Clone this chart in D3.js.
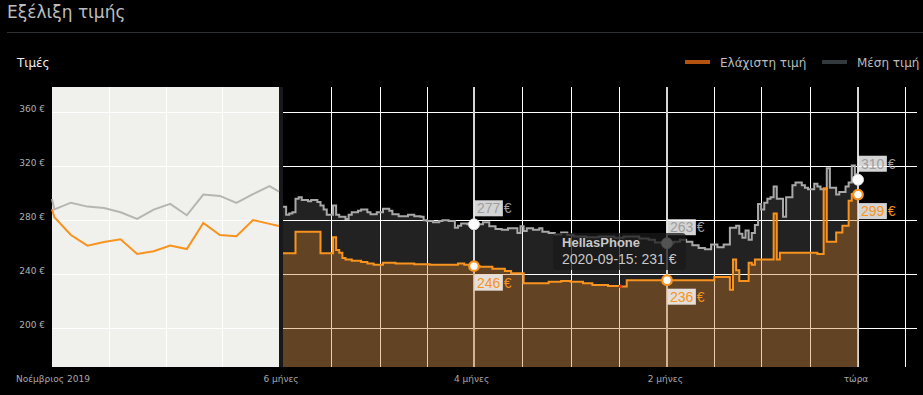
<!DOCTYPE html>
<html>
<head>
<meta charset="utf-8">
<script src="https://cdn.jsdelivr.net/npm/d3@7"></script>
<style>
  body { margin: 0; background: #000; }
  svg { display: block; font-family: "DejaVu Sans", Verdana, sans-serif; }
</style>
</head>
<body>
<svg id="chart" width="923" height="395"></svg>
<script>
// older history (left, compressed panel)
const oldDates = ["2019-11-20","2019-11-22","2019-12-06","2019-12-20","2020-01-03","2020-01-17","2020-01-31","2020-02-14",
                  "2020-02-28","2020-03-13","2020-03-27","2020-04-10","2020-04-24","2020-05-08","2020-05-22","2020-05-30"];
const oldAvg = [295.8,288.1,293.0,290.1,289.1,285.9,281.0,287.9,292.1,283.7,299.0,298.0,292.8,299.3,305.2,301.2];
const oldMin = [288.1,282.2,269.1,261.2,263.9,265.9,255.0,257.0,261.2,258.7,278.0,269.1,268.1,280.2,277.3,275.8];

// last 6 months, average price (step changes)
const avgDates = [
  "2020-05-30","2020-05-31",
  "2020-06-01","2020-06-02","2020-06-03","2020-06-04","2020-06-05","2020-06-07","2020-06-08","2020-06-10","2020-06-11","2020-06-12",
  "2020-06-13","2020-06-15","2020-06-16","2020-06-17","2020-06-19","2020-06-20","2020-06-21","2020-06-23","2020-06-24","2020-06-26",
  "2020-06-27","2020-06-29",
  "2020-07-01","2020-07-03","2020-07-04","2020-07-06","2020-07-09","2020-07-11","2020-07-13","2020-07-14","2020-07-15","2020-07-17",
  "2020-07-19","2020-07-20","2020-07-22","2020-07-24","2020-07-25","2020-07-26","2020-07-28",
  "2020-08-02","2020-08-04","2020-08-06","2020-08-08","2020-08-10","2020-08-13","2020-08-14","2020-08-15","2020-08-16","2020-08-18",
  "2020-08-20","2020-08-21","2020-08-23","2020-08-25","2020-08-27","2020-08-29","2020-08-31",
  "2020-09-04","2020-09-08","2020-09-13","2020-09-16","2020-09-21","2020-09-24","2020-09-26","2020-09-30",
  "2020-10-02","2020-10-04","2020-10-06","2020-10-08","2020-10-10","2020-10-12","2020-10-14","2020-10-16","2020-10-18","2020-10-20",
  "2020-10-22","2020-10-23","2020-10-24","2020-10-25","2020-10-26","2020-10-27","2020-10-28","2020-10-29","2020-10-30","2020-10-31",
  "2020-11-01","2020-11-02","2020-11-03","2020-11-04","2020-11-06","2020-11-07","2020-11-09","2020-11-10","2020-11-12","2020-11-13",
  "2020-11-14","2020-11-16","2020-11-17","2020-11-18","2020-11-20","2020-11-21","2020-11-23","2020-11-24","2020-11-26","2020-11-27",
  "2020-11-28","2020-11-29","2020-11-30"];
const avgValues = [
  290,284,
  285,286,296,297,295,294,295,293.5,291,288,
  284,291,284,282.5,281,284,286,287,288,286,
  284.5,286,
  288.5,287,284.5,283,284,283,282.5,280,279.5,278.5,
  279.5,280,279.5,274.5,276,277.5,277,
  278.5,275.5,273.5,273,274,270.5,275.5,272,274,273,
  274,271.5,270.5,269.5,271,269,268,
  267.5,268,267,268,266.5,265.5,263.5,263,
  264,265.5,264,261.5,259.5,258.5,262,260,262,274.5,
  276,270,267,272.5,265.5,270.5,276.5,292,288,293,
  296,297,305,296,282.5,297,306,308,306,304,
  303,307,305,303,318.5,304,299,301,305,308,
  320.5,314,310];

// last 6 months, lowest price (step changes)
const minDates = [
  "2020-05-30","2020-06-03","2020-06-11","2020-06-15","2020-06-16","2020-06-17","2020-06-18","2020-06-19","2020-06-21","2020-06-24",
  "2020-06-26","2020-06-28","2020-07-01","2020-07-05","2020-07-11","2020-07-16","2020-07-25","2020-07-27","2020-07-30","2020-08-01",
  "2020-08-05","2020-08-09","2020-08-11","2020-08-15","2020-08-23","2020-08-27","2020-08-30","2020-09-03","2020-09-06","2020-09-11",
  "2020-09-15","2020-09-17","2020-10-15","2020-10-20","2020-10-21","2020-10-22","2020-10-23","2020-10-26","2020-10-27","2020-10-28",
  "2020-11-03","2020-11-04","2020-11-05","2020-11-17","2020-11-19","2020-11-20","2020-11-23","2020-11-25","2020-11-27","2020-11-28",
  "2020-11-30"];
const minValues = [
  255.5,271.5,255.5,267.5,258,256,252,251,250,249,
  248,247,248.5,248,247.5,247,248,247,246,245.5,
  244,242.5,240.7,233.3,234.5,235,234.5,233.3,232,231.3,
  231,235.6,238,228.5,251,243,235,248.6,247,251,
  285,251,256,255,303.7,264,271,276,294.5,299.5,
  299];

const yTicks = [200, 240, 280, 320, 360];
const periodMonths = [-6, -4, -2, 0];
const periodLabels = ["6 μήνες", "4 μήνες", "2 μήνες", "τώρα"];
const startLabel = "Νοέμβριος 2019";
const nowDate = "2020-11-30";

// hovered point
const hoverShop = "HellasPhone";
const hoverDate = "2020-09-15";
const hoverPrice = 231;

const svg = d3.select("#chart");
const parse = d3.timeParse("%Y-%m-%d");
const zip = (ds, vs) => ds.map((d, i) => ({ date: parse(d), v: vs[i] }));

const oldAvgData = zip(oldDates, oldAvg);
const oldMinData = zip(oldDates, oldMin);
const avgData = zip(avgDates, avgValues);
const minData = zip(minDates, minValues);
const now = parse(nowDate);
const sixAgo = d3.timeMonth.offset(now, -6);

const plotTop = 87, plotBottom = 367;
const y = d3.scaleLinear().domain([171.1, 378.9]).range([367.3, 86.7]);
const xL = d3.scaleTime().domain([parse(oldDates[0]), sixAgo]).range([52, 279]);
const xR = d3.scaleTime().domain([sixAgo, d3.timeDay.offset(now, 19)]).range([283, 917.4]);
const px = v => Math.round(v) + 0.5;

const orange = "#f7931e", grey = "#a8a8a8";

// header
svg.append("text").attr("x", 7).attr("y", 18).attr("font-size", 17).attr("fill", "#bdbdbd").text("Εξέλιξη τιμής");
svg.append("line").attr("x1", 7).attr("x2", 923).attr("y1", 32.5).attr("y2", 32.5).attr("stroke", "#2e3133");
svg.append("text").attr("x", 17).attr("y", 67).attr("font-size", 12).attr("fill", "#eee").text("Τιμές");

const legend = [
  { label: "Ελάχιστη τιμή", color: "#b4520f", x: 685 },
  { label: "Μέση τιμή", color: "#323a3e", x: 822 }
];
const lg = svg.append("g").selectAll("g").data(legend).join("g").attr("transform", d => `translate(${d.x},62)`);
lg.append("line").attr("x2", 25).attr("stroke", d => d.color).attr("stroke-width", 4);
lg.append("text").attr("x", 35).attr("y", 4.5).attr("font-size", 12).attr("fill", "#bbb").text(d => d.label);

// left panel
svg.append("rect").attr("x", 52).attr("y", plotTop).attr("width", 227).attr("height", plotBottom - plotTop).attr("fill", "#f0f0ec");
svg.append("rect").attr("x", 279).attr("y", plotTop).attr("width", 4).attr("height", plotBottom - plotTop).attr("fill", "#16181b");

const gl = svg.append("g");
gl.selectAll("line.h").data(yTicks).join("line")
  .attr("x1", 52).attr("x2", 279).attr("y1", d => px(y(d))).attr("y2", d => px(y(d)))
  .attr("stroke", "#fff");
gl.selectAll("line.v").data([1, 2, 3]).join("line")
  .attr("x1", d => px(52 + d * 227 / 4)).attr("x2", d => px(52 + d * 227 / 4))
  .attr("y1", plotTop).attr("y2", plotBottom).attr("stroke", "#fff");

const lineL = d3.line().x(d => xL(d.date)).y(d => y(d.v));
svg.append("path").datum(oldAvgData).attr("d", lineL).attr("fill", "none").attr("stroke", "#b5b5b3").attr("stroke-width", 2);
svg.append("path").datum(oldMinData).attr("d", lineL).attr("fill", "none").attr("stroke", orange).attr("stroke-width", 2);

// right panel
const areaR = d3.area().x(d => xR(d.date)).y0(plotBottom).y1(d => y(d.v)).curve(d3.curveStepAfter);
const lineR = d3.line().x(d => xR(d.date)).y(d => y(d.v)).curve(d3.curveStepAfter);

svg.append("path").datum(avgData).attr("d", areaR).attr("fill", "#222");

// grid: half months back from now
const gridDates = [];
for (let k = -6; k <= 0; k++) {
  const a = d3.timeMonth.offset(now, k), b = d3.timeMonth.offset(now, k + 1);
  gridDates.push(a, new Date((+a + +b) / 2));
}
const majorDates = periodMonths.map(m => d3.timeMonth.offset(now, m));
const isMajor = d => majorDates.some(m => +m === +d);

const gr = svg.append("g");
gr.selectAll("line.h").data(yTicks).join("line")
  .attr("x1", 283).attr("x2", 917).attr("y1", d => px(y(d))).attr("y2", d => px(y(d)))
  .attr("stroke", "#fff");
gr.selectAll("line.v").data(gridDates.filter(d => d > sixAgo && !isMajor(d))).join("line")
  .attr("x1", d => px(xR(d))).attr("x2", d => px(xR(d)))
  .attr("y1", plotTop).attr("y2", plotBottom).attr("stroke", "#fff");
gr.selectAll("line.m").data(majorDates.filter(d => d > sixAgo)).join("line")
  .attr("x1", d => Math.round(xR(d))).attr("x2", d => Math.round(xR(d)))
  .attr("y1", plotTop).attr("y2", plotBottom).attr("stroke", "#d6d6d6").attr("stroke-width", 2);

svg.append("path").datum(minData).attr("d", areaR).attr("fill", "rgba(203,125,44,0.385)");
svg.append("path").datum(avgData).attr("d", lineR).attr("fill", "none").attr("stroke", grey).attr("stroke-width", 2);
svg.append("path").datum(minData).attr("d", lineR).attr("fill", "none").attr("stroke", orange).attr("stroke-width", 2);

// axes labels
svg.append("g").selectAll("text").data(yTicks).join("text")
  .attr("x", 45).attr("y", d => y(d)).attr("text-anchor", "end")
  .attr("font-size", 9).attr("fill", "#b0b0b0").text(d => d + " €");

const xt = svg.append("g").attr("font-size", 9).attr("fill", "#a8a8a8");
xt.append("text").attr("x", 16).attr("y", 382).text(startLabel);
xt.selectAll("text.p").data(periodMonths).join("text")
  .attr("x", d => xR(d3.timeMonth.offset(now, d)) - 2).attr("y", 382).attr("text-anchor", "middle")
  .text((d, i) => periodLabels[i]);

// markers at 4 months, 2 months, now
const valueAt = (data, d) => data.filter(p => p.date <= d).pop().v;
const marks = majorDates.filter(d => d > sixAgo);
const mk = svg.append("g").selectAll("g").data(marks).join("g")
  .attr("transform", d => `translate(${Math.round(xR(d))},0)`);

function label(g, kind) {
  g.each(function (d) {
    const data = kind === "avg" ? avgData : minData;
    const v = valueAt(data, d);
    const cy = y(v);
    const color = kind === "avg" ? "#9e9e9e" : orange;
    const sel = d3.select(this);
    const by = kind === "avg" ? cy - 24 : cy + 8.5;
    const box = sel.append("rect").attr("x", 0.5).attr("y", by).attr("height", 16)
      .attr("fill", "rgba(255,255,255,0.83)");
    const t = sel.append("text").attr("x", 3).attr("y", by + 13)
      .attr("font-family", "'Liberation Sans', Arial, sans-serif").attr("font-size", 14)
      .attr("fill", color).text(Math.round(v));
    const w = t.node().getComputedTextLength();
    box.attr("width", w + 5);
    sel.append("text").attr("x", w + 6.5).attr("y", by + 13)
      .attr("font-family", "'Liberation Sans', Arial, sans-serif").attr("font-size", 14)
      .attr("fill", color).text("€");
    sel.append("circle").attr("cy", cy).attr("r", kind === "avg" ? 5.5 : 4.8)
      .attr("fill", "#fff")
      .attr("stroke", kind === "avg" ? "#d8d8d8" : orange)
      .attr("stroke-width", kind === "avg" ? 1 : 2.2);
  });
}
label(mk, "avg");
label(mk, "min");

// hover tooltip
const hx = xR(parse(hoverDate)), hy = y(hoverPrice);
svg.append("circle").attr("cx", hx).attr("cy", hy).attr("r", 1.8).attr("fill", "#e2351e");
const tip = svg.append("g").attr("transform", `translate(${hx - 67.5},${hy - 53.5})`);
tip.append("rect").attr("width", 133).attr("height", 37).attr("rx", 4).attr("fill", "rgba(25,25,25,0.75)");
tip.append("text").attr("x", 9).attr("y", 14.5).attr("font-family", "'Liberation Sans', Arial, sans-serif")
  .attr("font-size", 13).attr("font-weight", "bold").attr("fill", "#c8c8c8").text(hoverShop);
tip.append("text").attr("x", 9).attr("y", 31.5).attr("font-family", "'Liberation Sans', Arial, sans-serif")
  .attr("font-size", 14).attr("fill", "#c8c8c8").text(`${hoverDate}: ${hoverPrice} €`);
</script>
</body>
</html>
